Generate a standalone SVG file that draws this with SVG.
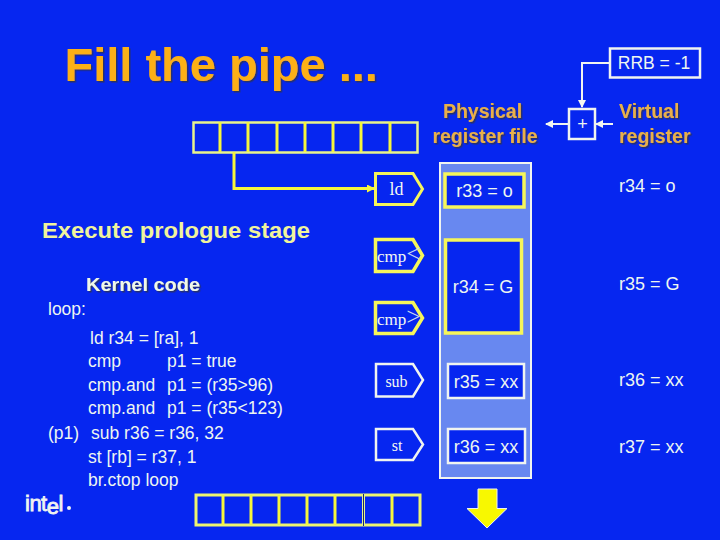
<svg xmlns="http://www.w3.org/2000/svg" width="720" height="540" viewBox="0 0 720 540">
<defs>
<marker id="ah" viewBox="0 0 8 8" refX="7" refY="4" markerWidth="8" markerHeight="8" markerUnits="userSpaceOnUse" orient="auto"><path d="M0 0L8 4L0 8Z" fill="#f4f8f0"/></marker>
<marker id="ay" viewBox="0 0 8 8" refX="7" refY="4" markerWidth="8" markerHeight="8" markerUnits="userSpaceOnUse" orient="auto"><path d="M0 0L8 4L0 8Z" fill="#f6f63c"/></marker>
<filter id="sh" x="-5%" y="-5%" width="110%" height="115%"><feDropShadow dx="1.500" dy="1.500" stdDeviation=".4" flood-color="#26306a"/></filter>
</defs>
<style>
text{font-family:"Liberation Sans",Arial,sans-serif}
.s{font-family:"Liberation Serif","Times New Roman",serif;font-size:16px;fill:#f4f8f0}
.c{font-size:17.500px;fill:#eef6f0}
.v{font-size:18px;fill:#eef6f0}
.o{font-size:19.500px;font-weight:bold;fill:#e8b048;filter:url(#sh)}
.cell{fill:none;stroke:#e8f48c;stroke-width:2.500}
.div{fill:none;stroke:#f6f63c;stroke-width:3}
.ybox{fill:#0626f0;stroke:#f6f65a;stroke-width:3.500}
.wbox{fill:#0626f0;stroke:#f0f4f0;stroke-width:2.500}
.wl{fill:none;stroke:#f0f4f0;stroke-width:2}
</style>
<rect width="720" height="540" fill="#0626f0"/>
<g id="title"><text x="64.500" y="81" font-size="47" font-weight="bold" fill="#fcb018" filter="url(#sh)">Fill the pipe ...</text></g>
<g id="register-column"><rect x="440" y="163" width="91" height="315" fill="#6888f0" stroke="#f0f4f0" stroke-width="2"/></g>
<g id="rrb"><rect x="610" y="48.500" width="90" height="29" fill="#0626f0" stroke="#f0f4f0" stroke-width="2.500"/><text x="654" y="69" text-anchor="middle" class="c">RRB = -1</text></g>
<g id="adder"><rect x="569" y="109" width="26" height="30" fill="#0626f0" stroke="#f0f4f0" stroke-width="2.500"/><text x="582.500" y="130" text-anchor="middle" class="v">+</text></g>
<g id="label-prf"><text x="482.500" y="118" text-anchor="middle" class="o">Physical</text><text x="485" y="143" text-anchor="middle" class="o">register file</text></g>
<g id="label-vr"><text x="619" y="118" class="o">Virtual</text><text x="619" y="143" class="o">register</text></g>
<g id="fifo-top"><rect x="193.500" y="122.500" width="224" height="30" class="cell"/><path class="div" d="M220 122v30M248 122v30M277 122v30M305 122v30M333 122v30M361 122v30M390 122v30"/></g>
<g id="fifo-bottom"><rect x="196" y="495" width="224" height="30" class="cell" style="stroke:#eef470;stroke-width:3"/><path class="div" d="M223 495v30M251 495v30M279 495v30M307 495v30M335 495v30M392 495v30"/><path d="M363.500 494v32" stroke="#e8f48c" stroke-width="3"/><path d="M363.500 494v32" stroke="#1a2a70" stroke-width="1"/></g>
<g id="connectors">
<path d="M234 152V188.500H374" fill="none" stroke="#f6f63c" stroke-width="3" marker-end="url(#ay)"/>
<path class="wl" d="M609 63H582V107" marker-end="url(#ah)"/>
<path class="wl" d="M568 124H546" marker-end="url(#ah)"/>
<path class="wl" d="M613 124H596" marker-end="url(#ah)"/>
</g>
<g id="op-ld"><path class="ybox" d="M375.500 173.500H413L422.500 189L413 204.500H375.500Z" style="stroke-width:3"/><text x="396.500" y="195" text-anchor="middle" class="s" style="font-size:18px">ld</text></g>
<g id="op-cmplt"><path class="ybox" d="M375.500 239.500H413L422.500 255.500L413 271.500H375.500Z"/><text x="377" y="262" class="s" style="font-size:17px">cmp<tspan font-size="26" fill="#c8d8f0">&lt;</tspan></text></g>
<g id="op-cmpgt"><path class="ybox" d="M375.500 302.500H413L422.500 318L413 333.500H375.500Z"/><text x="377" y="325" class="s" style="font-size:17px">cmp<tspan font-size="26" fill="#c8d8f0">&gt;</tspan></text></g>
<g id="op-sub"><path class="wbox" d="M376 364H413L423 380L413 396.500H376Z"/><text x="396.500" y="387" text-anchor="middle" class="s">sub</text></g>
<g id="op-st"><path class="wbox" d="M376 429H413L423 444.500L413 460H376Z"/><text x="397" y="451" text-anchor="middle" class="s">st</text></g>
<g id="reg-r33"><rect x="445" y="174" width="79" height="33" class="ybox"/><text x="484.500" y="197" text-anchor="middle" class="v">r33 = o</text></g>
<g id="reg-r34"><rect x="445.500" y="240" width="76" height="93" class="ybox"/><text x="483" y="293" text-anchor="middle" class="v">r34 = G</text></g>
<g id="reg-r35"><rect x="448" y="364" width="76" height="34" class="wbox"/><text x="486" y="388" text-anchor="middle" class="v">r35 = xx</text></g>
<g id="reg-r36"><rect x="448" y="429" width="77" height="34" class="wbox"/><text x="486" y="453" text-anchor="middle" class="v">r36 = xx</text></g>
<g id="virtual"><text x="619" y="192" class="v">r34 = o</text><text x="619" y="290" class="v">r35 = G</text><text x="619" y="386" class="v">r36 = xx</text><text x="619" y="453" class="v">r37 = xx</text></g>
<g id="arrow-down"><path d="M478 489H497V508.500H507L487 528L467 508.500H478Z" fill="#f8f800" stroke="#f0f4f0" stroke-width="1"/></g>
<g id="text-left">
<text x="42" y="238" font-size="22" font-weight="bold" fill="#f0f49c" textLength="268" lengthAdjust="spacingAndGlyphs">Execute prologue stage</text>
<text x="86" y="291" font-size="18" font-weight="bold" fill="#f0f8e8" textLength="114" lengthAdjust="spacingAndGlyphs" filter="url(#sh)">Kernel code</text>
<text x="48" y="315" class="c">loop:</text>
<text x="90" y="344" class="c">ld r34 = [ra], 1</text>
<text x="88" y="367" class="c">cmp</text><text x="167" y="367" class="c">p1 = true</text>
<text x="88" y="391" class="c">cmp.and</text><text x="167" y="391" class="c">p1 = (r35&gt;96)</text>
<text x="88" y="414" class="c">cmp.and</text><text x="167" y="414" class="c">p1 = (r35&lt;123)</text>
<text x="48" y="439" class="c">(p1)</text><text x="91" y="439" class="c">sub r36 = r36, 32</text>
<text x="88" y="463" class="c">st [rb] = r37, 1</text>
<text x="88" y="486" class="c">br.ctop loop</text>
</g>
<g id="logo"><text x="25" y="511" font-size="22" fill="#f0f4f0" stroke="#f0f4f0" stroke-width=".8" letter-spacing="-.5">int<tspan dy="3">e</tspan><tspan dy="-3">l</tspan></text><circle cx="69" cy="508" r="2" fill="#f0f4f0"/></g>
</svg>
